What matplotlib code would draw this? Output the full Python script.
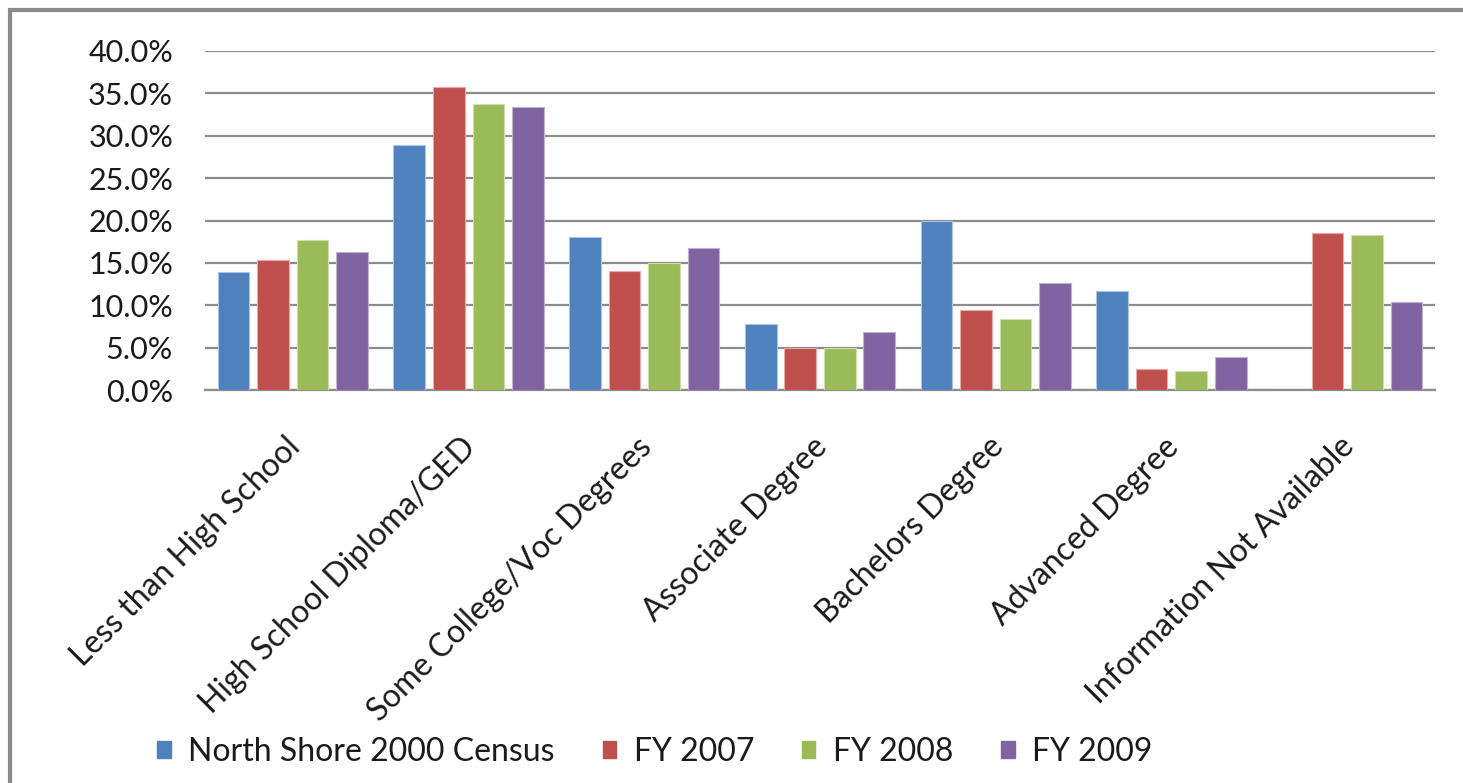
import matplotlib
matplotlib.use("Agg")
import matplotlib.pyplot as plt
import numpy as np
from matplotlib.patches import Rectangle, Patch
from matplotlib.ticker import FuncFormatter
from matplotlib.transforms import ScaledTranslation

categories = ["Less than High School", "High School Diploma/GED", "Some College/Voc Degrees",
              "Associate Degree", "Bachelors Degree", "Advanced Degree", "Information Not Available"]
series_names = ["North Shore 2000 Census", "FY 2007", "FY 2008", "FY 2009"]
census = [13.9, 28.9, 18.1, 7.8, 20.0, 11.7, 0.0]
fy2007 = [15.3, 35.8, 14.1, 5.0, 9.4, 2.5, 18.5]
fy2008 = [17.7, 33.8, 15.0, 5.0, 8.4, 2.3, 18.3]
fy2009 = [16.3, 33.4, 16.7, 6.9, 12.6, 3.9, 10.4]
yticks = [0, 5, 10, 15, 20, 25, 30, 35, 40]

colors = ["#4f81bd", "#c0504d", "#9bbb59", "#8064a2"]
edge = ["#a9c4e6", "#e6a9a8", "#cfe0ad", "#bfb1d4"]

plt.rcParams['font.family'] = ['Lato', 'DejaVu Sans']
W, H = 1463, 783
fig = plt.figure(figsize=(W/100, H/100), dpi=100)
ax = fig.add_axes([205/W, 1-390/H, (1435-205)/W, (390-51)/H])

x = np.arange(len(categories))
pitch = 0.225
width = 0.18
for i, vals in enumerate([census, fy2007, fy2008, fy2009]):
    ax.bar(x + (i-1.5)*pitch, vals, width=width, color=colors[i], edgecolor=edge[i],
           linewidth=0.8, zorder=3, label=series_names[i])

ax.set_xlim(-0.5, len(categories)-0.5)
ax.set_ylim(0, 40)
ax.set_yticks(yticks)
ax.yaxis.set_major_formatter(FuncFormatter(lambda v, p: f"{v:.1f}%"))
ax.grid(axis='y', color='#8c8c8c', linewidth=1.6, zorder=0)
for s in ['top', 'right', 'left']:
    ax.spines[s].set_visible(False)
ax.spines['bottom'].set_color('#8c8c8c')
ax.spines['bottom'].set_linewidth(1.6)
ax.tick_params(axis='y', length=0, labelsize=22, pad=23, labelcolor='#1a1a1a')
ax.tick_params(axis='x', length=0, labelsize=23, pad=30, labelcolor='#1a1a1a')
ax.set_xticks(x)
ax.set_xticklabels(categories, rotation=45, ha='right', rotation_mode='anchor')
shift = ScaledTranslation(-8/100, 0, fig.dpi_scale_trans)
for lbl in ax.get_xticklabels():
    lbl.set_transform(lbl.get_transform() + shift)

handles = [Patch(facecolor=colors[i], edgecolor=colors[i]) for i in range(4)]
fig.legend(handles, series_names, loc='center', bbox_to_anchor=(655/W, 1-752/H), ncol=4,
           frameon=False, fontsize=23, handlelength=0.42, handleheight=0.42,
           handletextpad=0.55, columnspacing=1.5, labelcolor='#1a1a1a')

fig.patches.append(Rectangle((10/W, -0.1), 1.2, 1-10/H+0.1, transform=fig.transFigure,
                             fill=False, edgecolor='#8a8a8a', linewidth=3))

fig.savefig("out.png", dpi=100, facecolor='white')
